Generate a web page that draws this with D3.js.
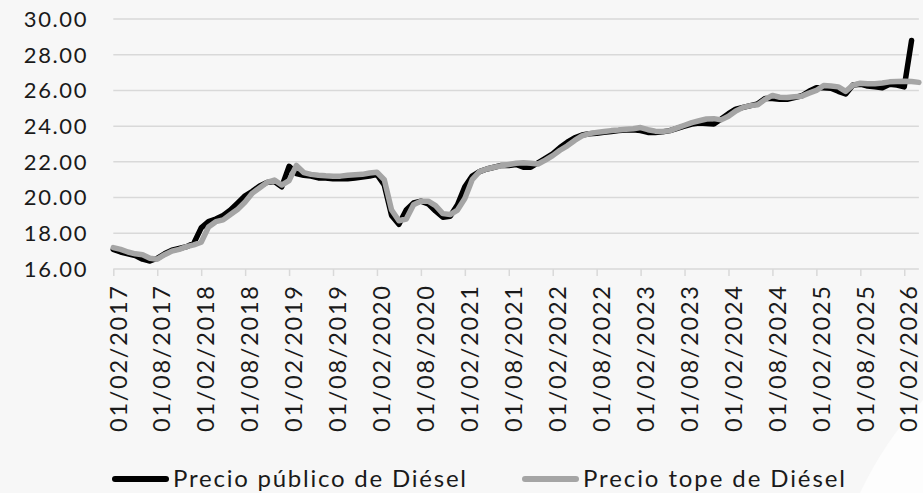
<!DOCTYPE html>
<html>
<head>
<meta charset="utf-8">
<script src="https://cdn.jsdelivr.net/npm/d3@7"></script>
<style>
  body { margin: 0; background: #f7f7f7; }
  text { font-family: "Lato", "Open Sans", sans-serif; fill: #1a1a1a; }
</style>
</head>
<body>
<svg id="chart" width="923" height="493"></svg>
<script>
// monthly categories, Feb 2017 .. Apr 2026
var months = d3.timeMonth.range(new Date(2017, 1, 1), new Date(2026, 4, 1));
var fmtMonth = d3.timeFormat("%d/%m/%Y");

var tickLabels = ["01/02/2017", "01/08/2017", "01/02/2018", "01/08/2018", "01/02/2019",
  "01/08/2019", "01/02/2020", "01/08/2020", "01/02/2021", "01/08/2021", "01/02/2022",
  "01/08/2022", "01/02/2023", "01/08/2023", "01/02/2024", "01/08/2024", "01/02/2025",
  "01/08/2025", "01/02/2026"];

var yTicks = [16, 18, 20, 22, 24, 26, 28, 30];

// Precio público de Diésel
var publico = [17.1, 16.95, 16.85, 16.75, 16.55, 16.45, 16.6, 16.85, 17.05, 17.15, 17.25, 17.45,
  18.3, 18.65, 18.8, 19.0, 19.3, 19.7, 20.1, 20.35, 20.65, 20.85, 20.9, 20.6,
  21.75, 21.35, 21.25, 21.2, 21.1, 21.1, 21.05, 21.05, 21.05, 21.1, 21.15, 21.2,
  21.3, 20.7, 19.0, 18.5, 19.3, 19.7, 19.8, 19.65, 19.25, 18.9, 18.95, 19.6,
  20.6, 21.2, 21.45, 21.6, 21.7, 21.8, 21.8, 21.85, 21.7, 21.7, 21.95, 22.2,
  22.45, 22.8, 23.1, 23.35, 23.5, 23.57, 23.6, 23.65, 23.7, 23.75, 23.78, 23.8,
  23.75, 23.65, 23.65, 23.68, 23.75, 23.88, 24.0, 24.12, 24.17, 24.15, 24.12, 24.4,
  24.7, 24.95, 25.05, 25.15, 25.25, 25.55, 25.55, 25.5, 25.5, 25.6, 25.7, 25.95,
  26.15, 26.15, 26.12, 25.95, 25.8, 26.3, 26.35, 26.25, 26.2, 26.15, 26.35, 26.3,
  26.2, 28.8];

// Precio tope de Diésel
var tope = [17.2, 17.1, 16.95, 16.85, 16.8, 16.6, 16.55, 16.8, 17.0, 17.1, 17.25, 17.35,
  17.5, 18.35, 18.65, 18.75, 19.05, 19.35, 19.75, 20.25, 20.55, 20.85, 20.98, 20.7,
  20.95, 21.8, 21.4, 21.3, 21.25, 21.22, 21.2, 21.2, 21.25, 21.28, 21.3, 21.38,
  21.42, 21.0, 19.3, 18.7, 18.8, 19.6, 19.8, 19.8, 19.55, 19.1, 19.05, 19.3,
  19.95, 21.0, 21.45, 21.6, 21.7, 21.78, 21.85, 21.92, 21.95, 21.92, 21.88, 22.1,
  22.35, 22.65, 22.9, 23.2, 23.45, 23.58, 23.65, 23.7, 23.75, 23.78, 23.82, 23.85,
  23.92, 23.8, 23.72, 23.7, 23.75, 23.9, 24.05, 24.2, 24.3, 24.4, 24.42, 24.35,
  24.55, 24.85, 25.05, 25.15, 25.2, 25.5, 25.72, 25.62, 25.6, 25.65, 25.68, 25.85,
  26.0, 26.28, 26.25, 26.2, 25.95, 26.3, 26.4, 26.38, 26.38, 26.42, 26.48, 26.5,
  26.52, 26.5, 26.45];

var svg = d3.select("#chart");

// light corner decoration
svg.append("path")
  .attr("d", "M923,400 Q885,440 860,493 L923,493 Z")
  .attr("fill", "#fdfdfd");

var plotLeft = 113.3, plotRight = 918.9, plotTop = 19, plotBottom = 269;

var x = d3.scalePoint()
  .domain(months.map(function(d) { return fmtMonth(d); }))
  .range([plotLeft, plotRight]);

var y = d3.scaleLinear()
  .domain([16, 30])
  .range([plotBottom, plotTop]);

// gridlines
svg.append("g")
  .selectAll("line")
  .data(yTicks.slice(1))
  .enter()
  .append("line")
  .attr("x1", plotLeft)
  .attr("x2", plotRight)
  .attr("y1", function(d) { return y(d); })
  .attr("y2", function(d) { return y(d); })
  .attr("stroke", "#d9d9d9")
  .attr("stroke-width", 1.5);

// y labels
svg.append("g")
  .selectAll("text")
  .data(yTicks)
  .enter()
  .append("text")
  .attr("x", 88)
  .attr("y", function(d) { return y(d); })
  .attr("dy", "0.36em")
  .attr("text-anchor", "end")
  .attr("font-size", "22px")
  .attr("letter-spacing", "1.6px")
  .text(function(d) { return d3.format(".2f")(d); });

// x axis
var xAxis = d3.axisBottom(x)
  .tickValues(tickLabels)
  .tickSize(7)
  .tickFormat("");

var gx = svg.append("g")
  .attr("transform", "translate(0," + plotBottom + ")")
  .call(xAxis);
gx.select(".domain")
  .attr("d", "M" + plotLeft + ",0H" + plotRight)
  .attr("stroke", "#d9d9d9")
  .attr("stroke-width", 1.5);
gx.selectAll(".tick line")
  .attr("stroke", "#d9d9d9")
  .attr("stroke-width", 1.5);

svg.append("g")
  .selectAll("text")
  .data(tickLabels)
  .enter()
  .append("text")
  .attr("transform", function(d) { return "translate(" + (x(d) + 5) + ",286) rotate(-90)"; })
  .attr("dy", "0.35em")
  .attr("text-anchor", "end")
  .attr("font-size", "23.5px")
  .attr("textLength", 146)
  .attr("lengthAdjust", "spacing")
  .text(function(d) { return d; });

// lines
var line = d3.line()
  .x(function(d, i) { return x(fmtMonth(months[i])); })
  .y(function(d) { return y(d); });

svg.append("path")
  .datum(publico)
  .attr("d", line)
  .attr("fill", "none")
  .attr("stroke", "#000")
  .attr("stroke-width", 5.5)
  .attr("stroke-linejoin", "round")
  .attr("stroke-linecap", "round");

svg.append("path")
  .datum(tope)
  .attr("d", line)
  .attr("fill", "none")
  .attr("stroke", "#a5a5a5")
  .attr("stroke-width", 5.5)
  .attr("stroke-linejoin", "round")
  .attr("stroke-linecap", "round");

// legend
var legendItems = [
  {name: "Precio público de Diésel", color: "#000", x: 113, w: 293},
  {name: "Precio tope de Diésel", color: "#a5a5a5", x: 523, w: 262}
];

var legend = svg.append("g");
legendItems.forEach(function(d) {
  legend.append("line")
    .attr("x1", d.x + 2)
    .attr("x2", d.x + 53)
    .attr("y1", 479)
    .attr("y2", 479)
    .attr("stroke", d.color)
    .attr("stroke-width", 6)
    .attr("stroke-linecap", "round");
  legend.append("text")
    .attr("x", d.x + 60)
    .attr("y", 486.5)
    .attr("font-size", "24px")
    .attr("textLength", d.w)
    .attr("lengthAdjust", "spacing")
    .text(d.name);
});
</script>
</body>
</html>
